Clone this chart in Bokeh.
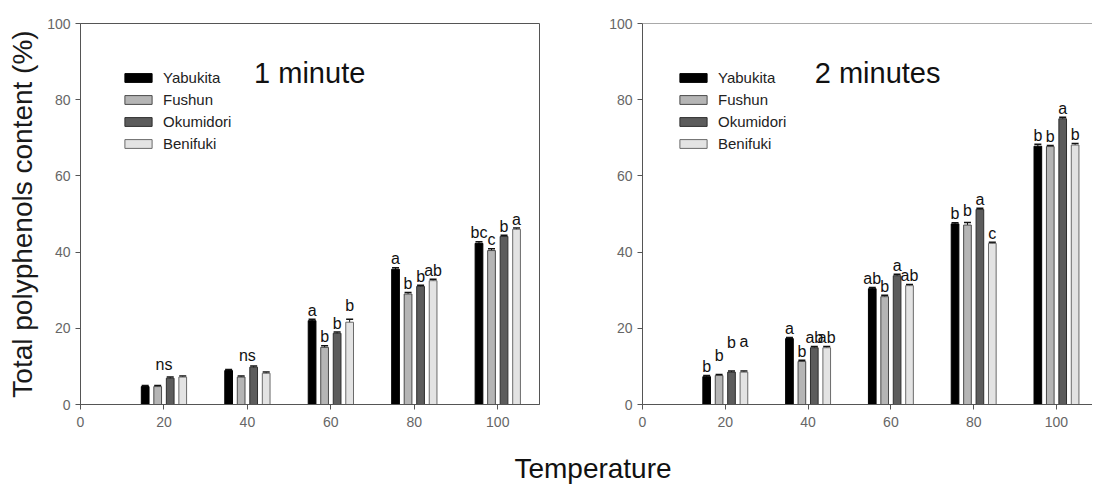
from bokeh.plotting import figure
from bokeh.models import (Range1d, FixedTicker, Legend, LegendItem, Label,
                          ColumnDataSource, Whisker, TeeHead, Span)
from bokeh.layouts import column, row
from bokeh.embed import file_html
from bokeh.resources import INLINE
from bokeh.core.properties import value

# ---------------- data ----------------
temps = [20, 40, 60, 80, 100]
cultivars = ["Yabukita", "Fushun", "Okumidori", "Benifuki"]
tick_vals = [0, 20, 40, 60, 80, 100]

# 1 minute extraction: total polyphenols (%)
m1_yabukita = [4.7, 8.9, 22.0, 35.5, 42.3]
m1_fushun = [4.7, 7.2, 15.0, 29.0, 40.4]
m1_okumidori = [6.9, 9.8, 18.7, 31.0, 44.1]
m1_benifuki = [7.2, 8.2, 21.6, 32.5, 46.0]
m1_err_yabukita = [0.3, 0.3, 0.4, 0.4, 0.4]
m1_err_fushun = [0.3, 0.3, 0.4, 0.4, 0.5]
m1_err_okumidori = [0.3, 0.3, 0.3, 0.3, 0.3]
m1_err_benifuki = [0.3, 0.3, 0.8, 0.4, 0.3]
m1_let_yabukita = ["", "", "a", "a", "bc"]
m1_let_fushun = ["", "", "b", "b", "c"]
m1_let_okumidori = ["", "", "b", "b", "b"]
m1_let_benifuki = ["", "", "b", "ab", "a"]
m1_group_let = ["ns", "ns", "", "", ""]

# 2 minutes extraction
m2_yabukita = [7.3, 17.3, 30.4, 47.4, 67.8]
m2_fushun = [7.6, 11.3, 28.3, 47.1, 67.7]
m2_okumidori = [8.5, 14.9, 33.8, 51.2, 75.0]
m2_benifuki = [8.5, 14.9, 31.2, 42.3, 68.1]
m2_err_yabukita = [0.3, 0.3, 0.3, 0.3, 0.5]
m2_err_fushun = [0.3, 0.3, 0.4, 0.7, 0.3]
m2_err_okumidori = [0.3, 0.3, 0.4, 0.3, 0.4]
m2_err_benifuki = [0.3, 0.3, 0.3, 0.3, 0.4]
m2_let_yabukita = ["b", "a", "ab", "b", "b"]
m2_let_fushun = ["b", "b", "b", "b", "b"]
m2_let_okumidori = ["b", "ab", "a", "a", "a"]
m2_let_benifuki = ["a", "ab", "ab", "c", "b"]
m2_group_let = ["", "", "", "", ""]

# ---------------- style ----------------
FONT = "Liberation Sans"
fills = ["#000000", "#b5b5b5", "#5c5c5c", "#e3e3e3"]
edges = ["#000000", "#4a4a4a", "#2e2e2e", "#6a6a6a"]
offsets = [-4.5, -1.5, 1.5, 4.5]
BAR_W = 1.85
AXIS_C = "#555555"
TICK_C = "#666666"
# extra vertical nudges (px, negative = up) for significance letters
nudge_m1 = {(3, 2): -5}
nudge_m2 = {(1, 0): -10, (2, 0): -19, (3, 0): -20, (1, 3): -3}


def make_panel(vals, errs, lets, group_let, nudge, title, frame_w, x_end,
               mb_left, mb_right, mb_top, frame_h, mb_bottom, ylabel,
               legend_loc, right_outline):
    p = figure(frame_width=frame_w, frame_height=frame_h, title=None,
               x_range=Range1d(0, x_end), y_range=Range1d(0, 100),
               min_border_left=mb_left, min_border_right=mb_right,
               min_border_top=mb_top, min_border_bottom=mb_bottom,
               toolbar_location=None, output_backend="svg",
               background_fill_color="white", border_fill_color="white")
    p.xgrid.visible = False
    p.ygrid.visible = False
    if right_outline:
        p.outline_line_color = AXIS_C
        p.outline_line_width = 1
    else:
        p.outline_line_color = None
        p.add_layout(Span(location=100, dimension="width",
                          line_color=AXIS_C, line_width=1))
    for ax in (p.xaxis[0], p.yaxis[0]):
        ax.ticker = FixedTicker(ticks=tick_vals)
        ax.axis_line_color = AXIS_C
        ax.major_tick_line_color = AXIS_C
        ax.major_tick_out = 5
        ax.major_tick_in = 0
        ax.minor_tick_line_color = None
        ax.major_label_text_font = FONT
        ax.major_label_text_font_size = "14px"
        ax.major_label_text_color = TICK_C
        ax.major_label_standoff = 5
    p.xaxis[0].major_label_standoff = 7
    if ylabel:
        p.yaxis[0].axis_label = ylabel
        p.yaxis[0].axis_label_text_font = FONT
        p.yaxis[0].axis_label_text_font_size = "28px"
        p.yaxis[0].axis_label_text_font_style = "normal"
        p.yaxis[0].axis_label_text_color = "#1a1a1a"
        p.yaxis[0].axis_label_standoff = 6

    items = []
    lx, ly, lt, lo = [], [], [], []
    for i, name in enumerate(cultivars):
        xs = [t + offsets[i] for t in temps]
        src = ColumnDataSource(dict(
            x=xs, top=vals[i],
            upper=[v + e for v, e in zip(vals[i], errs[i])],
            lower=[v - e for v, e in zip(vals[i], errs[i])]))
        r = p.vbar(x="x", top="top", width=BAR_W, bottom=0, source=src,
                   fill_color=fills[i], line_color=edges[i], line_width=1)
        items.append(LegendItem(label=name, renderers=[r]))
        p.add_layout(Whisker(source=src, base="x", upper="upper", lower="lower",
                             line_color="#111111", line_width=1,
                             upper_head=TeeHead(size=7, line_color="#111111", line_width=1.5),
                             lower_head=TeeHead(size=7, line_color="#111111", line_width=1)))
        for j in range(len(temps)):
            if lets[i][j]:
                lx.append(xs[j])
                ly.append(vals[i][j] + errs[i][j])
                lt.append(lets[i][j])
                lo.append(-9 + nudge.get((i, j), 0))
    for j, g in enumerate(group_let):
        if g:
            lx.append(temps[j])
            ly.append(max(vals[i][j] + errs[i][j] for i in range(4)))
            lt.append(g)
            lo.append(-11)
    tsrc = ColumnDataSource(dict(x=lx, y=ly, text=lt, yo=lo))
    p.text(x="x", y="y", text="text", y_offset="yo", source=tsrc,
           text_align="center", text_baseline="alphabetic",
           text_font=value(FONT), text_font_size="16px", text_color="#111111")

    leg = Legend(items=items, location=legend_loc, orientation="vertical",
                 glyph_width=34, glyph_height=11, label_standoff=8,
                 label_height=20, spacing=2, padding=0, margin=0,
                 border_line_color=None, background_fill_alpha=0,
                 label_text_font=FONT, label_text_font_size="15px",
                 label_text_color="#222222")
    p.add_layout(leg)

    p.add_layout(Label(x=41.6, y=87.0, text=title, text_align="left",
                       text_baseline="alphabetic", text_font=FONT,
                       text_font_size="29px", text_color="#111111"))
    return p


p1 = make_panel([m1_yabukita, m1_fushun, m1_okumidori, m1_benifuki],
                [m1_err_yabukita, m1_err_fushun, m1_err_okumidori, m1_err_benifuki],
                [m1_let_yabukita, m1_let_fushun, m1_let_okumidori, m1_let_benifuki],
                m1_group_let, nudge_m1, "1 minute",
                frame_w=459, x_end=110, mb_left=80, mb_right=21,
                mb_top=23, frame_h=381, mb_bottom=32,
                ylabel="Total polyphenols content (%)",
                legend_loc=(41, 251), right_outline=True)

p2 = make_panel([m2_yabukita, m2_fushun, m2_okumidori, m2_benifuki],
                [m2_err_yabukita, m2_err_fushun, m2_err_okumidori, m2_err_benifuki],
                [m2_let_yabukita, m2_let_fushun, m2_let_okumidori, m2_let_benifuki],
                m2_group_let, nudge_m2, "2 minutes",
                frame_w=450, x_end=108.7, mb_left=82, mb_right=0,
                mb_top=21, frame_h=381, mb_bottom=34,
                ylabel=None, legend_loc=(34, 251), right_outline=False)

pt = figure(width=1092, height=48, title=None,
            x_range=Range1d(0, 1092), y_range=Range1d(0, 48),
            min_border=0, toolbar_location=None, output_backend="svg",
            x_axis_location=None, y_axis_location=None)
pt.outline_line_color = None
pt.xgrid.visible = False
pt.ygrid.visible = False
pt.add_layout(Label(x=592.5, y=16.5, text="Temperature", text_align="center",
                    text_baseline="alphabetic", text_font=FONT,
                    text_font_size="28px", text_color="#111111"))

layout = column(row(p1, p2), pt)
open("out.html", "w").write(file_html(layout, INLINE))
